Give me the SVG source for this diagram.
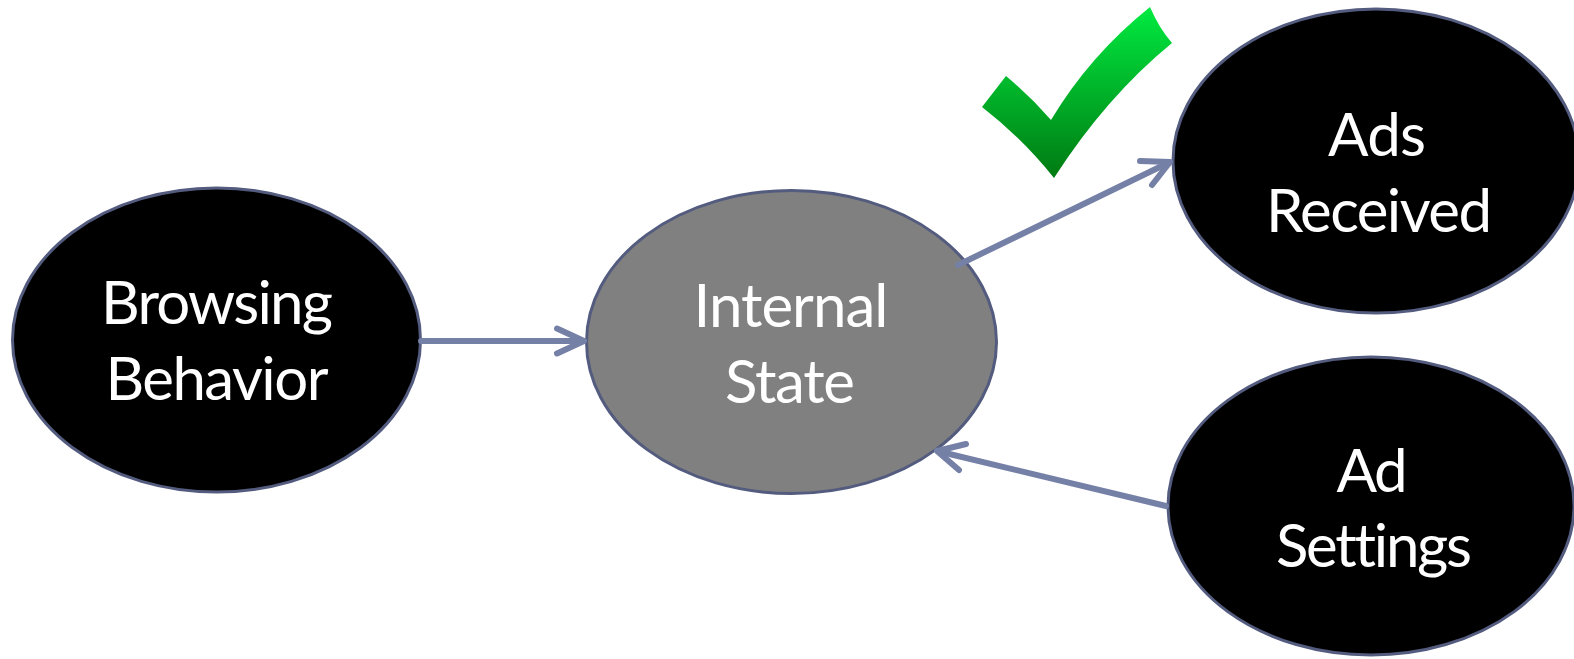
<svg xmlns="http://www.w3.org/2000/svg" width="1574" height="659" viewBox="0 0 1574 659">
  <style>
    .node { stroke: #535b7e; stroke-width: 3; }
    .dark { fill: #000000; }
    .grey { fill: #808080; }
    .label { font-family: Lato, "Liberation Sans", sans-serif; font-size: 60px; fill: #ffffff; text-anchor: middle; font-variant-ligatures: none; font-feature-settings: "liga" 0, "clig" 0; }
    .edge { fill: none; stroke: #7580a7; stroke-width: 6; stroke-linecap: round; stroke-linejoin: round; }
  </style>
  <defs>
    <linearGradient id="checkGrad" x1="0" y1="0" x2="0" y2="1">
      <stop offset="0" stop-color="#00ea40"/>
      <stop offset="1" stop-color="#007a12"/>
    </linearGradient>
  </defs>
  <rect width="1574" height="659" fill="#ffffff"/>

  <g id="node-browsing">
    <ellipse class="node dark" cx="216.5" cy="340" rx="204" ry="152"/>
    <text class="label" x="217" y="324" textLength="232">Browsing</text>
    <text class="label" x="217" y="400" textLength="223">Behavior</text>
  </g>

  <g id="node-internal">
    <ellipse class="node grey" cx="791.5" cy="342" rx="205" ry="151.5"/>
    <text class="label" x="791" y="327" textLength="195">Internal</text>
    <text class="label" x="790" y="403" textLength="130">State</text>
  </g>

  <g id="node-ads-received">
    <ellipse class="node dark" cx="1376" cy="161" rx="203" ry="152"/>
    <text class="label" x="1377" y="156" textLength="98">Ads</text>
    <text class="label" x="1379" y="232" textLength="226">Received</text>
  </g>

  <g id="node-ad-settings">
    <ellipse class="node dark" cx="1371" cy="506" rx="203" ry="149"/>
    <text class="label" x="1372" y="492" textLength="71">Ad</text>
    <text class="label" x="1374" y="567" textLength="196">Settings</text>
  </g>

  <g id="checkmark">
    <path d="M982,107 L1006,76 Q1030,96 1051,120 Q1090,55 1150,7 Q1159,28 1172,43 Q1106,97 1054,178 Q1022,138 982,107 Z" fill="url(#checkGrad)"/>
  </g>

  <g id="connectors">
    <line class="edge" x1="421" y1="341" x2="583" y2="341"/>
    <polyline class="edge" points="557,328.5 584,341 557,353.5"/>
    <line class="edge" x1="958" y1="265" x2="1168" y2="163"/>
    <polyline class="edge" points="1140,161 1170,162 1152,185"/>
    <line class="edge" x1="1166" y1="506" x2="939" y2="451.5"/>
    <polyline class="edge" points="966,444 937,451 959,470"/>
  </g>
</svg>
